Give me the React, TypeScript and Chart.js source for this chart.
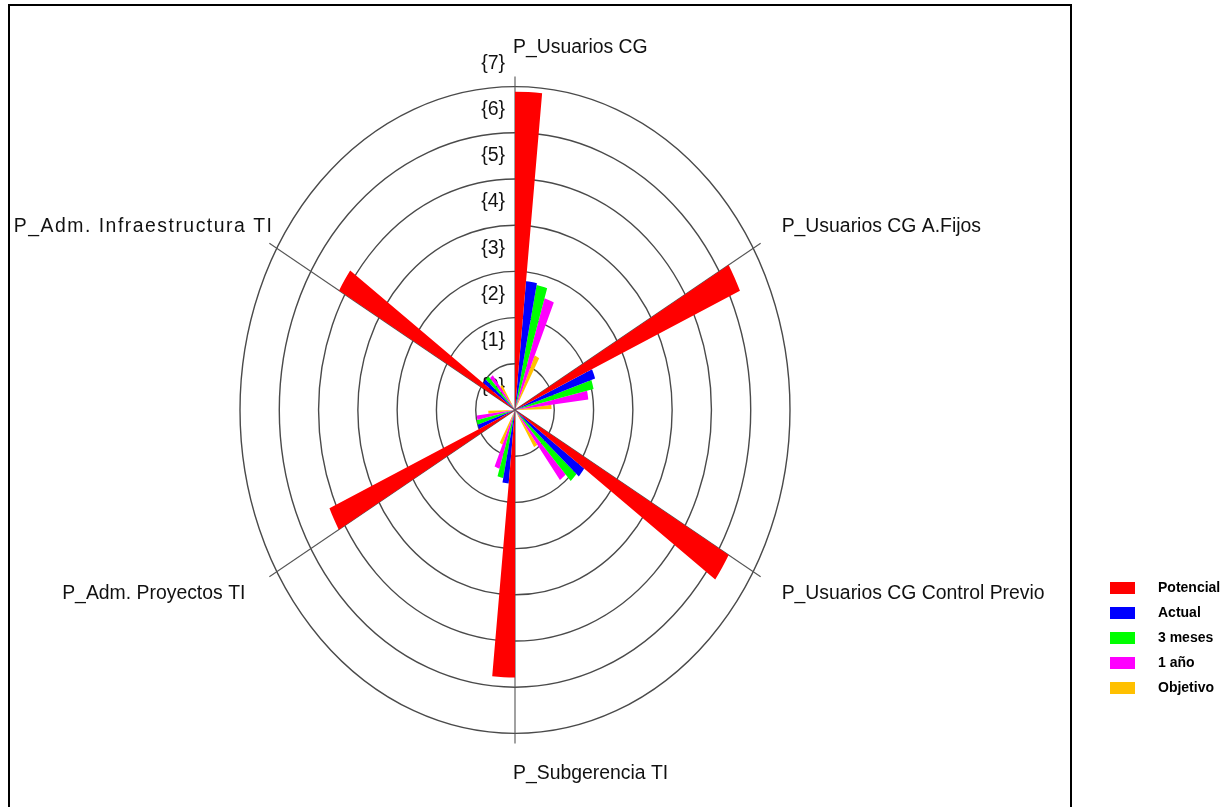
import { useEffect, useRef } from 'react';
import { Chart, registerables } from 'chart.js';

Chart.register(...registerables);

// ---- data ----
const categories = [
  'P_Usuarios CG',
  'P_Usuarios CG A.Fijos',
  'P_Usuarios CG Control Previo',
  'P_Subgerencia TI',
  'P_Adm. Proyectos TI',
  'P_Adm. Infraestructura TI',
];
const seriesNames = ['Potencial', 'Actual', '3 meses', '1 año', 'Objetivo'];
const seriesColors = ['#FF0000', '#0000FF', '#00FF00', '#FF00FF', '#FFC000'];
const potencial = [6.89, 6.28, 6.28, 5.79, 5.18, 5.17];
const actual = [2.8, 2.15, 2.17, 1.6, 1.0, 1.0];
const meses3 = [2.76, 2.05, 2.09, 1.5, 1.0, 0.99];
const anio1 = [2.53, 1.88, 1.9, 1.33, 0.98, 0.94];
const objetivo = [1.28, 0.93, 0.94, 0.81, 0.68, 0.63];
const ringValues = [1, 2, 3, 4, 5, 6, 7];
const ringLabels = ['{0}', '{1}', '{2}', '{3}', '{4}', '{5}', '{6}', '{7}'];

const seriesValues = [potencial, actual, meses3, anio1, objetivo];

// ---- geometry / style constants ----
const W = 1229;
const H = 807;
const SY = 1.176; // vertical stretch of the radar
const BAR_DEG = 5.75;
const SECTOR = 360 / categories.length;
const SLOTS = seriesNames.length + 1;
const GAP_DEG = SECTOR - BAR_DEG * seriesNames.length;
const AXIS_EXT = 7.22;
const FONT = '"Liberation Sans", Arial, sans-serif';

const slotLabels = categories.flatMap((c) => Array.from({ length: SLOTS }, () => c));

const decor = {
  id: 'decor',
  beforeDatasetsDraw(chart: any) {
    const ctx = chart.ctx as CanvasRenderingContext2D;
    const sc = chart.scales.r;
    const cx = sc.xCenter;
    const cy = sc.yCenter;
    ctx.save();
    ctx.strokeStyle = '#4a4a4a';
    ctx.lineWidth = 1.4;
    ringValues.forEach((v) => {
      const r = sc.getDistanceFromCenterForValue(v);
      ctx.beginPath();
      ctx.ellipse(cx, cy, r, r * SY, 0, 0, Math.PI * 2);
      ctx.stroke();
    });
    const rEnd = sc.getDistanceFromCenterForValue(AXIS_EXT);
    ctx.lineWidth = 1.1;
    ctx.strokeStyle = '#555';
    categories.forEach((_, i) => {
      const a = (i * SECTOR * Math.PI) / 180;
      ctx.beginPath();
      ctx.moveTo(cx, cy);
      ctx.lineTo(cx + rEnd * Math.sin(a), cy - rEnd * Math.cos(a) * SY);
      ctx.stroke();
    });
    ctx.font = `19.5px ${FONT}`;
    ctx.fillStyle = '#111';
    ctx.textAlign = 'right';
    ctx.textBaseline = 'middle';
    ringLabels.forEach((t, k) => {
      const r = sc.getDistanceFromCenterForValue(k + 0.5);
      ctx.fillText(t, cx - 10, cy - r * SY);
    });
    ctx.restore();

    ctx.save();
    ctx.translate(cx, cy);
    ctx.scale(1, SY);
    ctx.translate(-cx, -cy);
  },
  afterDatasetsDraw(chart: any) {
    const ctx = chart.ctx as CanvasRenderingContext2D;
    ctx.restore();
    const sc = chart.scales.r;
    const cx = sc.xCenter;
    const cy = sc.yCenter;
    const rEnd = sc.getDistanceFromCenterForValue(AXIS_EXT);

    ctx.save();
    ctx.font = `19.4px ${FONT}`;
    ctx.fillStyle = '#111';
    ctx.textBaseline = 'middle';
    categories.forEach((name, i) => {
      const a = (i * SECTOR * Math.PI) / 180;
      const ex = cx + rEnd * Math.sin(a);
      const ey = cy - rEnd * Math.cos(a) * SY;
      const s = Math.sin(a);
      const c = Math.cos(a);
      (ctx as any).letterSpacing = '0px';
      if (Math.abs(s) < 0.01) {
        ctx.textAlign = 'left';
        ctx.fillText(name, ex - 2, ey + (c > 0 ? -29 : 30));
      } else if (s > 0) {
        ctx.textAlign = 'left';
        ctx.fillText(name, ex + 21, ey + (c > 0 ? -17 : 17));
      } else if (c > 0) {
        ctx.textAlign = 'right';
        (ctx as any).letterSpacing = '1.5px';
        ctx.fillText(name, ex + 4, ey - 17);
      } else {
        ctx.textAlign = 'right';
        ctx.fillText(name, ex - 24, ey + 17);
      }
    });
    (ctx as any).letterSpacing = '0px';

    // legend
    const ds = chart.data.datasets;
    ctx.font = `bold 14px ${FONT}`;
    ctx.textAlign = 'left';
    ds.forEach((d: any, i: number) => {
      const y = 588 + i * 25;
      ctx.fillStyle = d.backgroundColor;
      ctx.fillRect(1110, y - 6, 25, 12);
      ctx.fillStyle = '#000';
      ctx.fillText(d.label, 1158, y);
    });

    // frame
    ctx.fillStyle = '#000';
    ctx.fillRect(8, 4, 2, H - 4);
    ctx.fillRect(8, 4, 1064, 2);
    ctx.fillRect(1070, 4, 2, H - 4);
    ctx.restore();
  },
};

export default function App() {
  const ref = useRef<HTMLCanvasElement | null>(null);
  useEffect(() => {
    if (!ref.current) return;
    const datasets = seriesValues.map((vals, s) => ({
      label: seriesNames[s],
      data: categories.flatMap((_, c) =>
        Array.from({ length: SLOTS }, (_, k) => (k === s ? vals[c] : 0))
      ),
      backgroundColor: seriesColors[s],
      borderWidth: 0,
      clip: false as any,
      angle: (ctx: any) => (ctx.dataIndex % SLOTS === SLOTS - 1 ? GAP_DEG : BAR_DEG),
    }));
    const chart = new Chart(ref.current, {
      type: 'polarArea',
      data: { labels: slotLabels, datasets: datasets as any },
      options: {
        responsive: false,
        animation: false,
        events: [],
        layout: { padding: { left: 240, right: W - 790, top: 135, bottom: H - 685 } },
        plugins: { legend: { display: false }, tooltip: { enabled: false } },
        scales: {
          r: { min: 0, max: 7, display: false, startAngle: 0 },
        },
      },
      plugins: [decor],
    });
    return () => chart.destroy();
  }, []);
  return (
    <div style={{ position: 'fixed', left: 0, top: 0, width: W, height: H, background: '#fff' }}>
      <canvas ref={ref} width={W} height={H} style={{ width: W, height: H, display: 'block' }} />
    </div>
  );
}
